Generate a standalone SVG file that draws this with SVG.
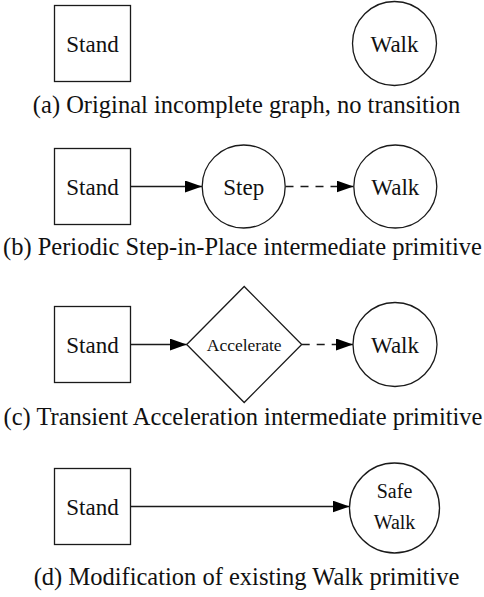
<svg xmlns="http://www.w3.org/2000/svg" width="484" height="597" viewBox="0 0 484 597">
<style>
.shape{fill:#fff;stroke:#1a1a1a;stroke-width:1.3}
.lbl{font-family:"Liberation Serif","Times New Roman",serif;font-size:23px;fill:#111;text-anchor:middle}
.small{font-size:17.5px}
.mid{font-size:20px}
.cap{font-family:"Liberation Serif","Times New Roman",serif;font-size:24.5px;fill:#111;text-anchor:middle}
.edge{stroke:#1a1a1a;stroke-width:1.3;fill:none;marker-end:url(#arr)}
.dash{stroke-dasharray:8,7}
</style>
<defs>
<marker id="arr" markerUnits="userSpaceOnUse" markerWidth="18" markerHeight="13" refX="17" refY="6" orient="auto">
<path d="M0,0 L17,6 L0,12 z" fill="#000"/>
</marker>
</defs>
<rect width="484" height="597" fill="#fff"/>
<g id="connectors">
<line class="edge" x1="130.5" y1="186.5" x2="202" y2="186.5"/>
<line class="edge dash" x1="285.5" y1="186.5" x2="353.5" y2="186.5"/>
<line class="edge" x1="130.5" y1="344.5" x2="186.7" y2="344.5"/>
<line class="edge dash" x1="301.7" y1="344.5" x2="353" y2="344.5"/>
<line class="edge" x1="130.5" y1="506.5" x2="349.5" y2="506.5"/>
</g>
<g id="a-stand"><rect class="shape" x="54.5" y="5.5" width="76" height="76"/><text class="lbl" x="92.5" y="52">Stand</text></g>
<g id="a-walk"><circle class="shape" cx="394.5" cy="43.5" r="42"/><text class="lbl" x="394.5" y="52">Walk</text></g>
<text class="cap" x="246.5" y="113">(a) Original incomplete graph, no transition</text>
<g id="b-stand"><rect class="shape" x="54.5" y="148.5" width="76" height="76"/><text class="lbl" x="92.5" y="195">Stand</text></g>
<g id="b-step"><circle class="shape" cx="243.7" cy="186.5" r="41.5"/><text class="lbl" x="243.7" y="195">Step</text></g>
<g id="b-walk"><circle class="shape" cx="395.3" cy="186.5" r="41.5"/><text class="lbl" x="395.3" y="195">Walk</text></g>
<text class="cap" x="242.5" y="255">(b) Periodic Step-in-Place intermediate primitive</text>
<g id="c-stand"><rect class="shape" x="54.5" y="306.5" width="76" height="76"/><text class="lbl" x="92.5" y="353">Stand</text></g>
<g id="c-accel"><polygon class="shape" points="186.7,344.5 244.2,286.5 301.7,344.5 244.2,402.5"/><text class="lbl small" x="244.2" y="350.5">Accelerate</text></g>
<g id="c-walk"><circle class="shape" cx="395" cy="344.5" r="42"/><text class="lbl" x="395" y="353">Walk</text></g>
<text class="cap" x="243" y="425">(c) Transient Acceleration intermediate primitive</text>
<g id="d-stand"><rect class="shape" x="54.5" y="468.5" width="76" height="76"/><text class="lbl" x="92.5" y="515">Stand</text></g>
<g id="d-safewalk"><circle class="shape" cx="394.5" cy="508" r="45"/><text class="lbl mid" x="394.5" y="498">Safe</text><text class="lbl mid" x="394.5" y="529">Walk</text></g>
<text class="cap" x="246.5" y="585">(d) Modification of existing Walk primitive</text>
</svg>
